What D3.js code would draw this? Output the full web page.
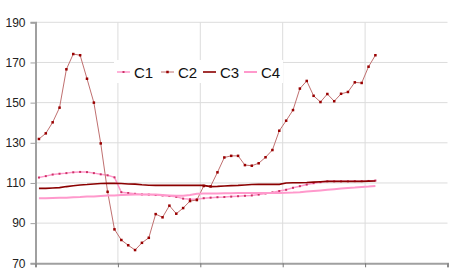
<!DOCTYPE html>
<html>
<head>
<meta charset="utf-8">
<script src="https://cdn.jsdelivr.net/npm/d3@7"></script>
<style>
  body { margin: 0; background: #fff; }
  svg { display: block; font-family: "Liberation Sans", Arial, sans-serif; }
</style>
</head>
<body>
<svg id="chart" width="450" height="279"></svg>
<script>
// series names shown in the legend
const seriesNames = ["C1", "C2", "C3", "C4"];

// y axis tick labels
const yTicks = [70, 90, 110, 130, 150, 170, 190];

// 60 monthly slots on the x axis, gridline every 12
const nSlots = 60;
const xGridEvery = 12;

// values (50 months of data)
const c1 = [112.7, 113.4, 114.2, 114.6, 114.9, 115.3, 115.5, 115.4, 114.9, 114.3,
            113.8, 112.8, 105.4, 105.0, 104.6, 104.3, 104.2, 104.0, 103.8, 103.5,
            103.1, 102.2, 101.9, 101.9, 102.4, 102.7, 102.9, 103.0, 103.2, 103.4,
            103.6, 103.8, 104.2, 104.8, 105.3, 106.0, 106.6, 107.6, 108.4, 109.2,
            109.9, 110.4, 110.8, 110.8, 110.8, 110.8, 110.9, 110.9, 111.0, 111.2];
const c2 = [131.9, 134.7, 140.2, 147.5, 166.6, 174.2, 173.6, 161.9, 150.0, 129.7,
            105.6, 86.9, 81.6, 79.0, 76.6, 80.2, 82.7, 94.5, 92.9, 98.7,
            94.7, 97.5, 101.0, 101.5, 108.5, 108.3, 115.3, 122.7, 123.5, 123.5,
            118.9, 118.6, 119.8, 122.8, 126.4, 136.0, 141.0, 146.3, 157.0, 160.8,
            153.4, 150.3, 154.3, 150.7, 154.4, 155.3, 160.1, 159.8, 167.9, 173.6];
const c3 = [107.3, 107.3, 107.5, 107.7, 108.2, 108.6, 109.0, 109.2, 109.5, 109.7,
            109.8, 109.8, 109.7, 109.5, 109.4, 109.1, 108.9, 108.8, 108.8, 108.8,
            108.8, 108.8, 108.8, 108.8, 108.8, 108.2, 108.3, 108.5, 108.7, 108.8,
            109.0, 109.2, 109.3, 109.3, 109.3, 109.3, 110.0, 110.1, 110.1, 110.2,
            110.4, 110.6, 110.8, 110.8, 110.8, 110.8, 110.8, 110.8, 110.9, 111.0];
const c4 = [102.4, 102.4, 102.5, 102.6, 102.7, 102.9, 103.0, 103.2, 103.3, 103.5,
            103.7, 103.8, 104.0, 104.1, 104.2, 104.3, 104.3, 104.2, 104.0, 103.8,
            103.6, 103.6, 104.0, 104.6, 104.8, 104.8, 104.8, 104.9, 104.9, 105.0,
            105.0, 105.0, 105.0, 105.0, 105.0, 105.0, 105.1, 105.2, 105.4, 105.7,
            106.0, 106.3, 106.6, 106.9, 107.2, 107.5, 107.7, 108.0, 108.2, 108.5];

const svg = d3.select("#chart");
const plotLeft = 35.5, plotRight = 447.5, plotTop = 22.3, plotBottom = 263.3;

const x = d3.scaleLinear().domain([0, nSlots]).range([plotLeft, plotRight]);
const y = d3.scaleLinear().domain([70, 190]).range([plotBottom, plotTop]);

// gridlines
const grid = svg.append("g");
grid.selectAll("line.h")
  .data(yTicks.filter(d => d > 70))
  .enter().append("line")
  .attr("x1", plotLeft).attr("x2", plotRight)
  .attr("y1", d => y(d)).attr("y2", d => y(d))
  .attr("stroke", "#dcdcdc").attr("stroke-width", 1);
const xGrid = d3.range(xGridEvery, nSlots, xGridEvery);
grid.selectAll("line.v")
  .data(xGrid)
  .enter().append("line")
  .attr("x1", d => x(d)).attr("x2", d => x(d))
  .attr("y1", plotTop).attr("y2", plotBottom)
  .attr("stroke", "#dcdcdc").attr("stroke-width", 1);

// y axis
const yAxis = svg.append("g")
  .attr("transform", `translate(${plotLeft},0)`)
  .call(d3.axisLeft(y).tickValues(yTicks).tickSize(5).tickPadding(5));
yAxis.select(".domain").attr("stroke", "#a0a0a0").attr("stroke-width", 2);
yAxis.selectAll(".tick line").attr("stroke", "#a0a0a0");
yAxis.selectAll("text").attr("font-size", 12).attr("fill", "#222")
  .attr("font-family", "Liberation Sans, Arial, sans-serif");

// x axis (no labels)
const xAxis = svg.append("g")
  .attr("transform", `translate(0,${plotBottom})`)
  .call(d3.axisBottom(x).tickValues(d3.range(0, nSlots + 1, xGridEvery)).tickSize(4).tickFormat(""));
xAxis.select(".domain").attr("stroke", "#a0a0a0").attr("stroke-width", 2);
xAxis.selectAll(".tick line").attr("stroke", "#777");

const line = d3.line()
  .x((d, i) => x(i + 0.5))
  .y(d => y(d));

const styles = [
  { data: c1, stroke: "#ff99cc", width: 1.5, marker: "#cc3366", msize: 2 },
  { data: c2, stroke: "#c07070", width: 1, marker: "#990000", msize: 2.5 },
  { data: c3, stroke: "#8b0000", width: 1.6, marker: null },
  { data: c4, stroke: "#ff99cc", width: 2, marker: null }
];

styles.forEach(s => {
  svg.append("path")
    .datum(s.data)
    .attr("fill", "none")
    .attr("stroke", s.stroke)
    .attr("stroke-width", s.width)
    .attr("d", line);
  if (s.marker) {
    svg.append("g").selectAll("rect")
      .data(s.data)
      .enter().append("rect")
      .attr("x", (d, i) => x(i + 0.5) - s.msize / 2)
      .attr("y", d => y(d) - s.msize / 2)
      .attr("width", s.msize).attr("height", s.msize)
      .attr("fill", s.marker);
  }
});

// legend
const legend = svg.append("g");
legend.append("rect")
  .attr("x", 114).attr("y", 60).attr("width", 169).attr("height", 23)
  .attr("fill", "#fff");
const legX = [117, 161, 203, 244];
styles.forEach((s, i) => {
  const g = legend.append("g").attr("transform", `translate(${legX[i]},72)`);
  g.append("line").attr("x1", 0).attr("x2", 13).attr("y1", 0).attr("y2", 0)
    .attr("stroke", s.stroke).attr("stroke-width", s.width);
  if (s.marker) {
    g.append("rect").attr("x", 6.5 - s.msize / 2).attr("y", -s.msize / 2)
      .attr("width", s.msize).attr("height", s.msize).attr("fill", s.marker);
  }
  g.append("text").attr("x", 17).attr("y", 5.5)
    .attr("font-size", 15).attr("fill", "#111")
    .text(seriesNames[i]);
});
</script>
</body>
</html>
